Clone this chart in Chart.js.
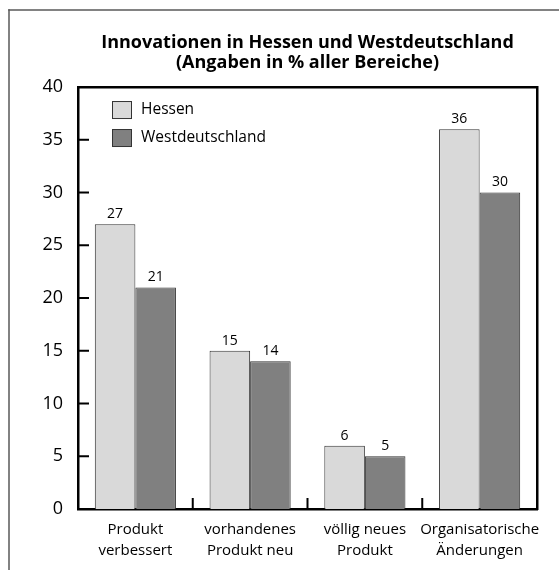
<!DOCTYPE html>
<html>
<head>
<meta charset="utf-8">
<script src="https://cdn.jsdelivr.net/npm/chart.js@4"></script>
<style>
    html, body {
        margin: 0;
        padding: 0;
        background: #ffffff;
    }
</style>
</head>
<body>
<canvas id="innoChart" width="559" height="570"></canvas>
<script>

// data
const categories = [
    ["Produkt", "verbessert"],
    ["vorhandenes", "Produkt neu"],
    ["völlig neues", "Produkt"],
    ["Organisatorische", "Änderungen"],
];
const seriesNames = ["Hessen", "Westdeutschland"];
const hessenValues = [27, 15, 6, 36];
const westValues = [21, 14, 5, 30];
const yMin = 0;
const yMax = 40;
const yStep = 5;

const FONT = "'Open Sans', 'DejaVu Sans', sans-serif";
const FRAME = { display: true, color: "#000000", width: 2.5 };

// inward ticks, value labels, legend, page frame
const decorPlugin = {
    id: "decor",
    afterDraw(chart) {
        const ctx = chart.ctx;
        const area = chart.chartArea;
        const xs = chart.scales.x;
        const ys = chart.scales.y;

        ctx.save();
        ctx.fillStyle = "#000000";

        // y ticks pointing inward
        ys.ticks.forEach((t) => {
            if (t.value === yMin || t.value === yMax) {
                return;
            }
            const y = ys.getPixelForValue(t.value);
            ctx.fillRect(area.left, y - 1, 11, 2);
        });

        // category separators on x axis
        for (let i = 1; i < categories.length; i++) {
            const x = (xs.getPixelForValue(i - 1) + xs.getPixelForValue(i)) / 2;
            ctx.fillRect(x - 1, area.bottom - 11, 2, 11);
        }

        // value labels above bars
        ctx.font = "14px " + FONT;
        ctx.textAlign = "center";
        ctx.textBaseline = "bottom";
        chart.data.datasets.forEach((ds, di) => {
            const meta = chart.getDatasetMeta(di);
            meta.data.forEach((bar, i) => {
                ctx.fillText(String(ds.data[i]), bar.x, bar.y - 3);
            });
        });

        // legend inside the plot
        ctx.font = "15.5px " + FONT;
        ctx.textAlign = "left";
        ctx.textBaseline = "middle";
        chart.data.datasets.forEach((ds, di) => {
            const bx = area.left + 34;
            const by = area.top + 14 + di * 28;
            ctx.fillStyle = "#333333";
            ctx.fillRect(bx, by, 20, 18);
            ctx.fillStyle = ds.backgroundColor;
            ctx.fillRect(bx + 1, by + 1, 18, 16);
            ctx.fillStyle = "#000000";
            ctx.fillText(ds.label, bx + 29, by + 9);
        });

        // outer page frame (top + left only)
        ctx.fillStyle = "#5a5a5a";
        ctx.fillRect(8.25, 9.25, 1.5, chart.height);
        ctx.fillRect(8.25, 9.25, chart.width, 1.5);

        ctx.restore();
    },
};

const innoChart = new Chart(document.getElementById("innoChart"), {
    type: "bar",
    data: {
        labels: categories,
        datasets: [
            {
                label: seriesNames[0],
                data: hessenValues,
                backgroundColor: "#d9d9d9",
                borderColor: "#333333",
                borderWidth: 1,
                borderSkipped: "bottom",
            },
            {
                label: seriesNames[1],
                data: westValues,
                backgroundColor: "#808080",
                borderColor: "#333333",
                borderWidth: 1,
                borderSkipped: "bottom",
            },
        ],
    },
    options: {
        responsive: false,
        animation: false,
        devicePixelRatio: 1,
        datasets: {
            bar: {
                categoryPercentage: 0.707,
                barPercentage: 1.0,
            },
        },
        layout: {
            padding: { left: 23, right: 22, top: 0, bottom: 0 },
        },
        plugins: {
            legend: { display: false },
            tooltip: { enabled: false },
            title: {
                display: true,
                // centred over the plot box, not the whole canvas
                fullSize: false,
                text: [
                    "Innovationen in Hessen und Westdeutschland",
                    "(Angaben in % aller Bereiche)",
                ],
                color: "black",
                font: { family: FONT, size: 18, weight: "bold", lineHeight: 1.12 },
                padding: { top: 33, bottom: 13.7 },
            },
        },
        scales: {
            x: {
                grid: { display: false, drawTicks: false },
                border: FRAME,
                ticks: {
                    color: "black",
                    padding: 10,
                    maxRotation: 0,
                    autoSkip: false,
                    font: { family: FONT, size: 15, lineHeight: 1.4 },
                },
                afterFit(scale) {
                    scale.height = 61;
                },
            },
            // top edge of the plot box
            xTop: {
                type: "category",
                position: "top",
                grid: { display: false, drawTicks: false },
                border: FRAME,
                ticks: { display: false },
                afterFit(scale) {
                    scale.height = 0;
                },
            },
            y: {
                min: yMin,
                max: yMax,
                grid: { display: false, drawTicks: false },
                border: FRAME,
                ticks: {
                    stepSize: yStep,
                    color: "black",
                    padding: 15,
                    font: { family: FONT, size: 18 },
                },
                afterFit(scale) {
                    scale.width = 55;
                },
            },
            // right edge of the plot box
            yRight: {
                type: "linear",
                position: "right",
                min: yMin,
                max: yMax,
                grid: { display: false, drawTicks: false },
                border: FRAME,
                ticks: { display: false },
                afterFit(scale) {
                    scale.width = 0;
                },
            },
        },
    },
    plugins: [decorPlugin],
});

</script>
</body>
</html>
